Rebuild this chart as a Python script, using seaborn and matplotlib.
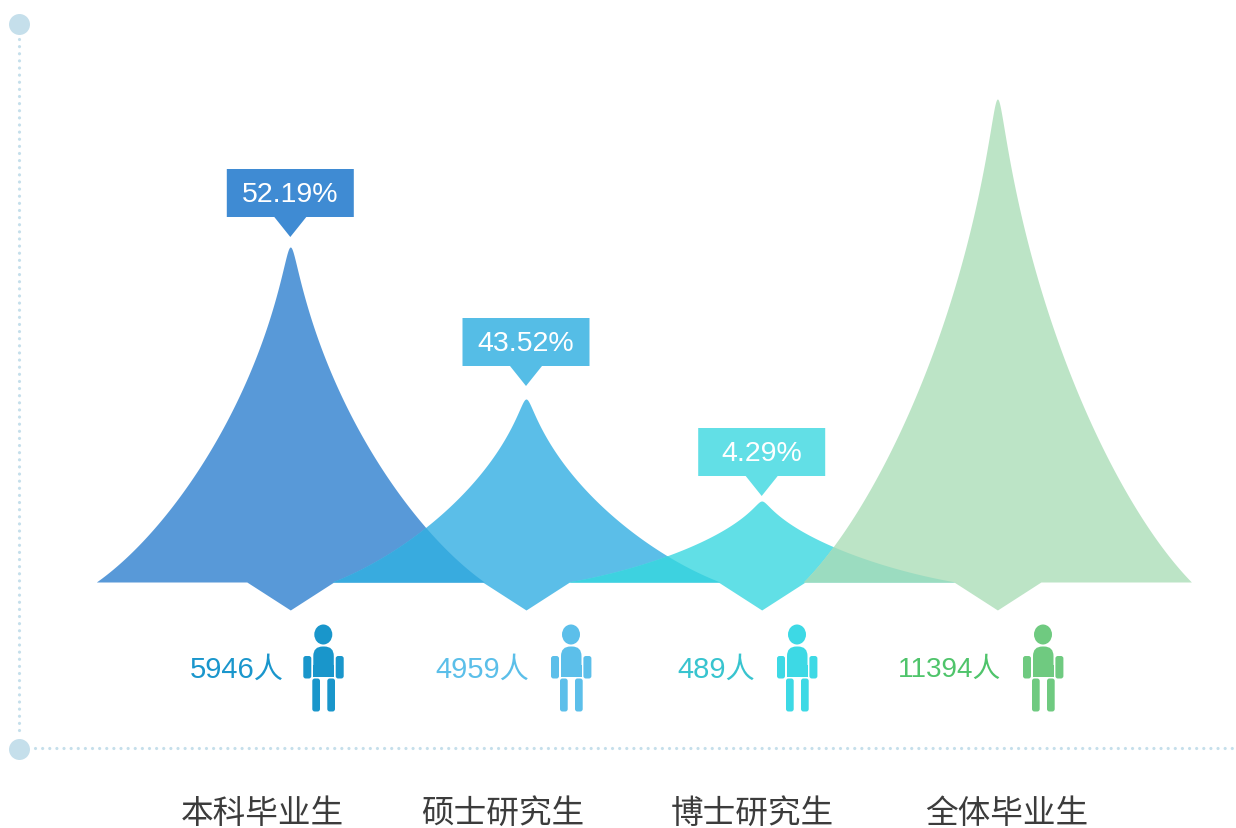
import numpy as np
import pandas as pd
import matplotlib.pyplot as plt
import seaborn as sns
from matplotlib.patches import Ellipse, FancyBboxPatch, Polygon
from matplotlib.transforms import Affine2D

categories = ['本科毕业生', '硕士研究生', '博士研究生', '全体毕业生']
spike_heights = [335, 183, 81, 483]
percent_labels = ['52.19%', '43.52%', '4.29%', None]
counts = ['5946人', '4959人', '489人', '11394人']

spike_colors = ['#5899d8', '#5bbee8', '#61dfe6', '#bce4c6']
overlap_colors = ['#38abdf', '#3dd2e0', '#9bdcc0']
box_colors = ['#3f8bd3', '#55bde6', '#62dfe6', None]
count_colors = ['#1a96cc', '#5bbfe9', '#38c4cf', '#4fc46b']
icon_colors = ['#1996cb', '#5cbfea', '#3dd9e5', '#6fca80']
axis_color = '#c5dfeb'
label_color = '#3c3c3c'

# pixel layout of the picture
W, H = 1236, 829
X0, STEP, BASE = 290.3, 235.7, 583
HALF = 194
tag_gap = [30, 33, 25, 0]
count_right = [283.5, 529.5, 755.5, 1001]
count_sizes = [21, 21, 21, 20]
icon_x = [323.3, 571, 797, 1043]
label_x = [262.5, 502.5, 752.5, 1006.5]

sns.set_theme(style='white')
plt.rcParams['font.family'] = ['Liberation Sans', 'Noto Sans CJK SC', 'DejaVu Sans']

fig, ax = plt.subplots(figsize=(W / 100, H / 100), dpi=100)
fig.subplots_adjust(0, 0, 1, 1)

df = pd.DataFrame({'category': categories, 'height': spike_heights})
sns.barplot(data=df, x='category', y='height', hue='category', palette=spike_colors,
            saturation=1, width=2 * HALF / STEP, legend=False, ax=ax)


def xd(px):
    return (px - X0) / STEP


def yd(px):
    return BASE - px


ax.set_xlim(xd(0), xd(W))
ax.set_ylim(yd(H), yd(0))
ax.axis('off')

# spike outline, half width 1 at the foot and height 1 at the tip
s = np.linspace(0, 1, 400)
bez_t = (1 - s) ** 3 + 3 * (1 - s) ** 2 * s * 0.6 + 3 * (1 - s) * s ** 2 * 0.13
bez_h = 3 * (1 - s) ** 2 * s * 0.16 + 3 * (1 - s) * s ** 2 * 0.56 + s ** 3
ROUND = 0.02
FOOT = np.sqrt(1 + ROUND ** 2) - ROUND

grid = np.linspace(xd(60), xd(1220), 4000)
tops = []
bars = list(ax.patches)
for bar in bars:
    color = bar.get_facecolor()
    center = bar.get_x() + bar.get_width() / 2
    half = bar.get_width() / 2
    height = bar.get_height()
    bar.remove()
    t = np.abs(grid - center) / half
    t2 = (np.sqrt(t ** 2 + ROUND ** 2) - ROUND) / FOOT
    top = height * np.interp(t2, bez_t[::-1], bez_h[::-1], right=0)
    notch = 28 * (1 - np.abs(grid - center) * STEP / 43.5)
    low = -np.clip(notch, 0, None)
    ax.fill_between(grid, low, top, where=t <= 1, color=color, lw=0, zorder=2)
    tops.append(top)

for i, c in enumerate(overlap_colors):
    ax.fill_between(grid, 0, np.minimum(tops[i], tops[i + 1]), color=c, lw=0, zorder=3)

# percent tags above the peaks
for i, (text, c) in enumerate(zip(percent_labels, box_colors)):
    if text is None:
        continue
    y = spike_heights[i] + tag_gap[i]
    bw, ph = 63.5 / STEP, 16 / STEP
    tag = [(i - bw, y), (i - ph, y), (i, y - 20), (i + ph, y),
           (i + bw, y), (i + bw, y + 48), (i - bw, y + 48)]
    ax.add_patch(Polygon(tag, closed=True, fc=c, ec='none', zorder=4))
    ax.text(i, y + 23, text, color='white', fontsize=20.5, ha='center', va='center', zorder=5)

# dotted axes with their end circles
dots = dict(color=axis_color, lw=2.3, dash_capstyle='round', zorder=1)
ax.plot([xd(19), xd(19)], [yd(40), yd(735)], linestyle=(0, (0.01, 2.22)), **dots)
ax.plot([xd(35), xd(W)], [yd(749), yd(749)], linestyle=(0, (0.01, 2.22)), **dots)
ends = pd.DataFrame({'x': [xd(19), xd(19)], 'y': [yd(25), yd(750)]})
sns.scatterplot(data=ends, x='x', y='y', color=axis_color, s=228, linewidth=0, ax=ax, zorder=1)
ax.set_xlabel('')
ax.set_ylabel('')


def person(cx, top, color):
    # icon drawn in screen pixels, y running down from the head
    tr = Affine2D().scale(1, -1).translate(cx, H - top)
    parts = [
        Ellipse((0, 10), 18, 20),
        FancyBboxPatch((-10, 22), 20.5, 30, boxstyle='round,pad=0,rounding_size=9.5'),
        FancyBboxPatch((-10, 40), 20.5, 12, boxstyle='square,pad=0'),
        FancyBboxPatch((-20, 31.5), 8, 22.5, boxstyle='round,pad=0,rounding_size=2.5'),
        FancyBboxPatch((12.4, 31.5), 8, 22.5, boxstyle='round,pad=0,rounding_size=2.5'),
        FancyBboxPatch((-11, 54), 7.7, 33, boxstyle='round,pad=0,rounding_size=2.5'),
        FancyBboxPatch((4, 54), 7.7, 33, boxstyle='round,pad=0,rounding_size=2.5'),
    ]
    for p in parts:
        p.set(fc=color, ec='none', transform=tr, zorder=4)
        fig.add_artist(p)


for i in range(4):
    person(icon_x[i], 625.5, icon_colors[i])
    ax.text(xd(count_right[i]), yd(670), counts[i], color=count_colors[i], fontsize=count_sizes[i],
            ha='right', va='center')
    ax.text(xd(label_x[i]), yd(814.5), categories[i], color=label_color, fontsize=23.5,
            ha='center', va='center')

fig.savefig('out.png', dpi=100)
